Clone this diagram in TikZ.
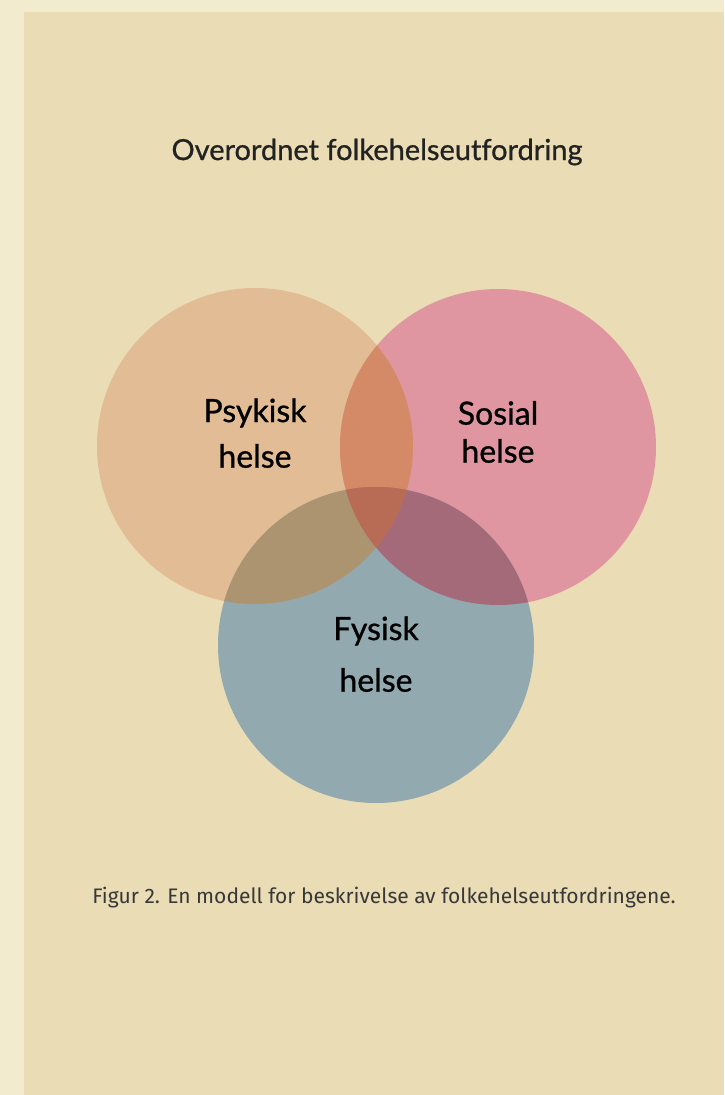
\documentclass[tikz,border=0pt]{standalone}
\usepackage{fontspec}
\setmainfont{Lato}[Ligatures=NoCommon]
\newfontfamily\medfont{Lato}[FakeBold=0.8,Ligatures=NoCommon]
\newfontfamily\capfont{Fira Sans}[Ligatures=NoCommon]
\definecolor{outerbg}{HTML}{F3EBCD}
\definecolor{panelbg}{HTML}{EADCB5}
\definecolor{psyc}{HTML}{E2BC95}
\definecolor{sosc}{HTML}{E096A1}
\definecolor{fysc}{HTML}{91A9AF}
\definecolor{psysos}{HTML}{D48A66}
\definecolor{psyfys}{HTML}{AD9470}
\definecolor{sosfys}{HTML}{A56A79}
\definecolor{allthree}{HTML}{B86C55}
\definecolor{txt}{HTML}{222222}
\tikzset{
  label/.style={font=\medfont\fontsize{32}{38}\selectfont, text=black, inner sep=0pt},
  titlestyle/.style={font=\medfont\fontsize{29}{34}\selectfont, text=txt, inner sep=0pt},
  capstyle/.style={font=\capfont\fontsize{21}{25}\selectfont, text=txt!90, inner sep=0pt}
}
\begin{document}
\begin{tikzpicture}[x=1pt,y=-1pt]
\useasboundingbox (0,0) rectangle (724,1095);
\fill[outerbg] (0,0) rectangle (724,1095);
\fill[panelbg] (24,12) rectangle (724,1095);
\def\r{158}
\coordinate (P) at (255,446);
\coordinate (S) at (498,447);
\coordinate (F) at (376,645);
\fill[psyc] (P) circle (\r);
\fill[sosc] (S) circle (\r);
\fill[fysc] (F) circle (\r);
\begin{scope}
  \clip (P) circle (\r);
  \fill[psysos] (S) circle (\r);
  \fill[psyfys] (F) circle (\r);
\end{scope}
\begin{scope}
  \clip (S) circle (\r);
  \fill[sosfys] (F) circle (\r);
\end{scope}
\begin{scope}
  \clip (P) circle (\r);
  \clip (S) circle (\r);
  \fill[allthree] (F) circle (\r);
\end{scope}
\node[titlestyle] (title) at (377,152) {Overordnet folkehelseutfordring};
\node[label] (p1) at (255,413) {Psykisk};
\node[label] (p2) at (255,456) {helse};
\node[label] (s1) at (498,413) {Sosial};
\node[label] (s2) at (498,451) {helse};
\node[label] (f1) at (376,631) {Fysisk};
\node[label] (f2) at (376,680) {helse};
\node[capstyle] (cap) at (384,898) {Figur 2. En modell for beskrivelse av folkehelseutfordringene.};
\end{tikzpicture}
\end{document}
